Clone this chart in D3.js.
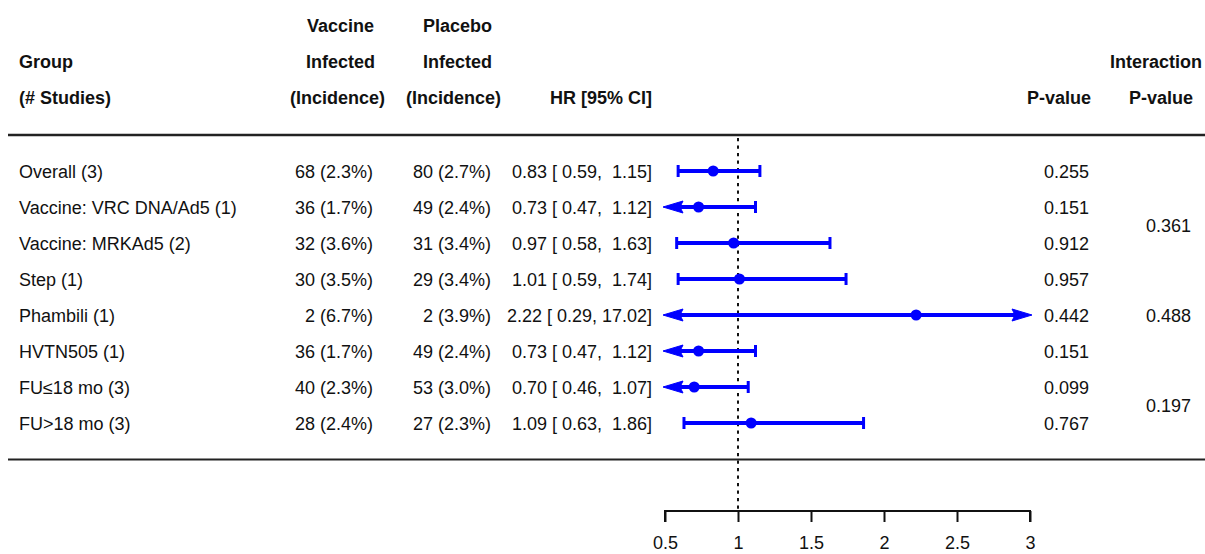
<!DOCTYPE html>
<html>
<head>
<meta charset="utf-8">
<script src="https://cdn.jsdelivr.net/npm/d3@7"></script>
<style>
  html, body { margin: 0; padding: 0; background: #ffffff; }
  svg { display: block; }
  text { font-family: "Liberation Sans", Arial, Helvetica, sans-serif; fill: #111; white-space: pre; }
</style>
</head>
<body>
<svg id="chart" width="1205" height="554"></svg>
<script>
// ---- data ----
const groups = ["Overall (3)", "Vaccine: VRC DNA/Ad5 (1)", "Vaccine: MRKAd5 (2)", "Step (1)",
                "Phambili (1)", "HVTN505 (1)", "FU\u226418 mo (3)", "FU>18 mo (3)"];
const vaccineInfected = ["68 (2.3%)", "36 (1.7%)", "32 (3.6%)", "30 (3.5%)", "2 (6.7%)", "36 (1.7%)", "40 (2.3%)", "28 (2.4%)"];
const placeboInfected = ["80 (2.7%)", "49 (2.4%)", "31 (3.4%)", "29 (3.4%)", "2 (3.9%)", "49 (2.4%)", "53 (3.0%)", "27 (2.3%)"];
const hr = [0.83, 0.73, 0.97, 1.01, 2.22, 0.73, 0.70, 1.09];
const lower = [0.59, 0.47, 0.58, 0.59, 0.29, 0.47, 0.46, 0.63];
const upper = [1.15, 1.12, 1.63, 1.74, 17.02, 1.12, 1.07, 1.86];
const pValues = ["0.255", "0.151", "0.912", "0.957", "0.442", "0.151", "0.099", "0.767"];
const interactionP = ["0.361", "0.488", "0.197"];
const interactionRows = [[1, 2], [3, 5], [6, 7]];
const axisTicks = [0.5, 1, 1.5, 2, 2.5, 3];

// ---- setup ----
const svg = d3.select("#chart");
const FS = 18;
const x = d3.scaleLinear().domain([0.5, 3]).range([665, 1030]);
const y = d3.scaleLinear().domain([0, groups.length - 1]).range([171, 423]);
const base = 6.5; // baseline offset from visual center
const blue = "#0000ff";

// ---- header ----
const header = svg.append("g").attr("font-weight", "bold").attr("font-size", FS);
const headerItems = [
  {t: "Vaccine", x: 340.5, y: 25, a: "middle"},
  {t: "Placebo", x: 457.5, y: 25, a: "middle"},
  {t: "Group", x: 19, y: 61, a: "start"},
  {t: "Infected", x: 340.5, y: 61, a: "middle"},
  {t: "Infected", x: 457.5, y: 61, a: "middle"},
  {t: "Interaction", x: 1202, y: 61, a: "end"},
  {t: "(# Studies)", x: 19, y: 97, a: "start"},
  {t: "(Incidence)", x: 337.5, y: 97, a: "middle"},
  {t: "(Incidence)", x: 453.5, y: 97, a: "middle"},
  {t: "HR [95% CI]", x: 652, y: 97, a: "end"},
  {t: "P-value", x: 1091, y: 97, a: "end"},
  {t: "P-value", x: 1193, y: 97, a: "end"}
];
header.selectAll("text").data(headerItems).join("text")
  .attr("x", d => d.x).attr("y", d => d.y + base)
  .attr("text-anchor", d => d.a).text(d => d.t);

// ---- rules ----
svg.append("line").attr("x1", 8).attr("x2", 1205).attr("y1", 135).attr("y2", 135)
  .attr("stroke", "#222").attr("stroke-width", 2.5);
svg.append("line").attr("x1", 8).attr("x2", 1205).attr("y1", 459.5).attr("y2", 459.5)
  .attr("stroke", "#222").attr("stroke-width", 2.2);

// ---- table text ----
const f2 = d3.format(".2f");
const pad = (s, n) => (" ".repeat(Math.max(0, n - s.length)) + s);
const hrText = hr.map((h, i) => `${f2(h)} [${pad(f2(lower[i]), 5)}, ${pad(f2(upper[i]), 5)}]`);

const body = svg.append("g").attr("font-size", FS);
const cols = [
  {vals: groups, x: 19, a: "start"},
  {vals: vaccineInfected, x: 373, a: "end"},
  {vals: placeboInfected, x: 491, a: "end"},
  {vals: hrText, x: 652, a: "end"},
  {vals: pValues, x: 1089, a: "end"}
];
cols.forEach(c => {
  body.append("g").selectAll("text").data(c.vals).join("text")
    .attr("x", c.x).attr("y", (d, i) => y(i) + base)
    .attr("text-anchor", c.a).text(d => d);
});
body.append("g").selectAll("text").data(interactionP).join("text")
  .attr("x", 1191)
  .attr("y", (d, i) => (y(interactionRows[i][0]) + y(interactionRows[i][1])) / 2 + base)
  .attr("text-anchor", "end").text(d => d);

// ---- reference line ----
svg.append("line").attr("x1", x(1)).attr("x2", x(1)).attr("y1", 138).attr("y2", 511)
  .attr("stroke", "#111").attr("stroke-width", 2).attr("stroke-dasharray", "3.3,4.2");

// ---- CIs ----
const [dMin, dMax] = x.domain();
const ci = svg.append("g");
const capH = 6;
const headLen = 20, headHalf = 6;
hr.forEach((h, i) => {
  const yy = y(i);
  const loClipped = lower[i] < dMin;
  const hiClipped = upper[i] > dMax;
  const xl = loClipped ? x(dMin) - 2 : x(lower[i]);
  const xh = hiClipped ? x(dMax) + 2 : x(upper[i]);
  ci.append("line")
    .attr("x1", loClipped ? xl + headLen - 4 : xl)
    .attr("x2", hiClipped ? xh - headLen + 4 : xh)
    .attr("y1", yy).attr("y2", yy)
    .attr("stroke", blue).attr("stroke-width", 4);
  if (loClipped) {
    ci.append("path")
      .attr("d", `M${xl},${yy} L${xl + headLen},${yy - headHalf} L${xl + headLen - 3},${yy} L${xl + headLen},${yy + headHalf} Z`)
      .attr("fill", blue).attr("stroke", blue).attr("stroke-width", 1).attr("stroke-linejoin", "round");
  } else {
    ci.append("line").attr("x1", xl).attr("x2", xl).attr("y1", yy - capH).attr("y2", yy + capH)
      .attr("stroke", blue).attr("stroke-width", 3);
  }
  if (hiClipped) {
    ci.append("path")
      .attr("d", `M${xh},${yy} L${xh - headLen},${yy - headHalf} L${xh - headLen + 3},${yy} L${xh - headLen},${yy + headHalf} Z`)
      .attr("fill", blue).attr("stroke", blue).attr("stroke-width", 1).attr("stroke-linejoin", "round");
  } else {
    ci.append("line").attr("x1", xh).attr("x2", xh).attr("y1", yy - capH).attr("y2", yy + capH)
      .attr("stroke", blue).attr("stroke-width", 3);
  }
  ci.append("circle").attr("cx", x(h)).attr("cy", yy).attr("r", 5.5).attr("fill", blue);
});

// ---- axis ----
const axis = d3.axisBottom(x).tickValues(axisTicks).tickFormat(d3.format("")).tickSize(11).tickPadding(14);
const ag = svg.append("g").attr("transform", "translate(0,511)").call(axis);
ag.select(".domain").attr("stroke", "#111").attr("stroke-width", 2)
  .attr("d", `M${x(dMin)},11V0H${x(dMax)}V11`);
ag.selectAll(".tick line").attr("stroke", "#111").attr("stroke-width", 2);
ag.selectAll(".tick text").attr("font-size", FS).attr("font-family", "Liberation Sans, Arial, sans-serif").attr("fill", "#111");
</script>
</body>
</html>
